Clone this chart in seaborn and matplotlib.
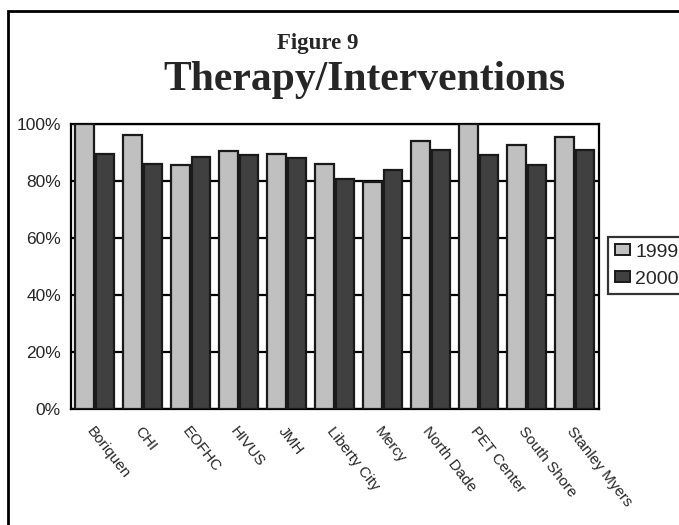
import seaborn as sns
import matplotlib
matplotlib.use('Agg')
import matplotlib.pyplot as plt
import matplotlib.patches as mpatches
import pandas as pd

# chart data
sites = ['Boriquen', 'CHI', 'EOFHC', 'HIVUS', 'JMH', 'Liberty City', 'Mercy',
         'North Dade', 'PET Center', 'South Shore', 'Stanley Myers']
years = ['1999', '2000']
pct_1999 = [100, 96, 85.5, 90.5, 89.5, 86, 79.5, 94, 100, 92.5, 95.5]
pct_2000 = [89.5, 86, 88.5, 89, 88, 80.5, 84, 91, 89, 85.5, 91]
yticks = [0, 20, 40, 60, 80, 100]
colors = {'1999': '#c0c0c0', '2000': '#404040'}

df = pd.DataFrame({
    'Site': sites * 2,
    'Year': [years[0]] * len(sites) + [years[1]] * len(sites),
    'Pct': pct_1999 + pct_2000,
})

sns.set_style('white')
plt.rcParams['font.family'] = ['Liberation Sans', 'DejaVu Sans']

fig = plt.figure(figsize=(6.79, 5.25), dpi=100)
ax = fig.add_axes([0.104, 0.221, 0.778, 0.543])  # plot box placed like the reference

sns.barplot(data=df, x='Site', y='Pct', hue='Year', palette=colors, width=0.85, gap=0.1,
            edgecolor='#1a1a1a', linewidth=1.6, legend=False, ax=ax, zorder=3)

ax.set_ylim(0, 100)
ax.set_yticks(yticks)
ax.set_yticklabels([f'{t}%' for t in yticks], fontsize=12.5)
ax.yaxis.grid(True, color='black', linewidth=1.6, zorder=0)
ax.set_axisbelow(True)
ax.tick_params(axis='both', length=0)
ax.tick_params(axis='y', pad=7)
ax.set_xlabel('')
ax.set_ylabel('')
for s in ax.spines.values():
    s.set_color('black')
    s.set_linewidth(1.6)

# rotated site names hanging under each group
ax.set_xticks(range(len(sites)))
ax.set_xticklabels(sites, rotation=-52, ha='left', va='top', rotation_mode='anchor', fontsize=11)
ax.tick_params(axis='x', pad=11)

# titles (serif, bold)
fig.text(318 / 679, 1 - 43 / 525, 'Figure 9', ha='center', va='center',
         family='Liberation Serif', fontweight='bold', fontsize=16.5)
fig.text(364 / 679, 1 - 80 / 525, 'Therapy/Interventions', ha='center', va='center',
         family='Liberation Serif', fontweight='bold', fontsize=30)

# legend hanging off the right edge
handles = [mpatches.Patch(facecolor=colors[y], edgecolor='#1a1a1a', linewidth=1.4, label=y) for y in years]
leg = fig.legend(handles=handles, loc='upper left', bbox_to_anchor=(608 / 679, 1 - 237 / 525),
                 frameon=True, fontsize=14, handlelength=0.8, handleheight=0.5, handletextpad=0.25,
                 borderpad=0.35, labelspacing=0.5, fancybox=False, borderaxespad=0)
leg.get_frame().set_edgecolor('black')
leg.get_frame().set_linewidth(1.6)

# outer frame of the figure, cut by the right and bottom edges
fig.add_artist(mpatches.Rectangle((8 / 679, -0.2), 1.2, 1.2 - 11 / 525,
                                  transform=fig.transFigure, fill=False, edgecolor='black', linewidth=2))

plt.savefig('out.png', dpi=100)
plt.close()
